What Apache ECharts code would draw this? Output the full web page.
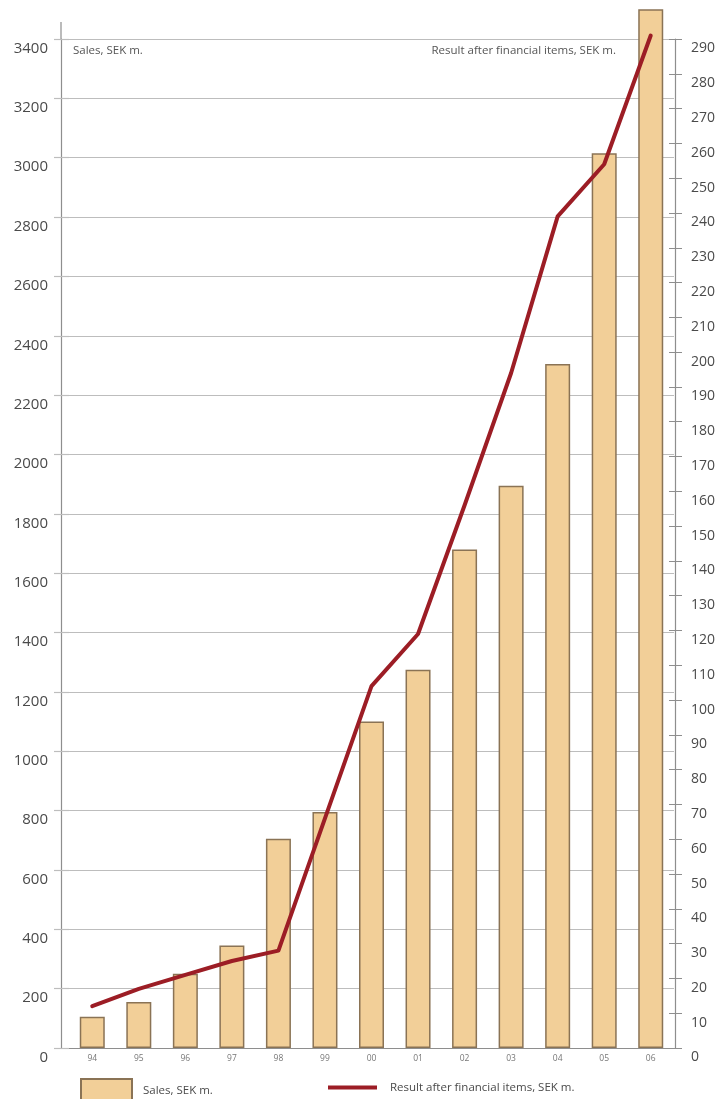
<!DOCTYPE html>
<html>
<head>
<meta charset="utf-8">
<script src="https://cdn.jsdelivr.net/npm/echarts@6/dist/echarts.min.js"></script>
<style>
  html, body { margin: 0; padding: 0; background: #ffffff; }
  #chart { width: 720px; height: 1099px; }
</style>
</head>
<body>
<div id="chart"></div>
<script>
// Years on the category axis
const years = ['94', '95', '96', '97', '98', '99', '00', '01', '02', '03', '04', '05', '06'];
// Sales, SEK m. (left axis)
const sales = [105, 155, 250, 345, 705, 795, 1100, 1275, 1680, 1895, 2305, 3015, 3500];
// Result after financial items, SEK m. (right axis)
const result = [12, 17, 21, 25, 28, 66, 104, 119, 156, 194, 239, 254, 291];
// Axis scales
const salesScale = { min: 0, max: 3400, interval: 200 };
const resultScale = { min: 0, max: 290, interval: 10 };
const salesName = 'Sales, SEK m.';
const resultName = 'Result after financial items, SEK m.';

const FONT = '"Open Sans", "Noto Sans", sans-serif';
const AXIS_COLOR = '#8e8e8e';
const GRID_COLOR = '#bdbdbd';
const BAR_FILL = '#f2cf98';
const BAR_EDGE = '#8a7355';
const LINE_COLOR = '#9c1d25';
const TEXT_COLOR = '#4a4a4a';

// plain integers, no thousands separator
const plain = v => String(v);

const chart = echarts.init(document.getElementById('chart'), null, { renderer: 'canvas' });

chart.setOption({
  backgroundColor: '#ffffff',
  animation: false,
  grid: { left: 69, right: 46, top: 39, bottom: 51, containLabel: false },
  legend: [
    {
      data: [salesName],
      left: 80, top: 1078,
      padding: 0,
      itemWidth: 51, itemHeight: 24,
      itemGap: 12,
      icon: 'rect',
      textStyle: { fontFamily: FONT, fontSize: 11.5, color: TEXT_COLOR, padding: [0, 0, 0, 6] },
      selectedMode: false
    },
    {
      data: [resultName],
      left: 328, top: 1080,
      padding: 0,
      itemWidth: 49, itemHeight: 4,
      itemGap: 12,
      icon: 'rect',
      itemStyle: { color: LINE_COLOR, borderWidth: 0 },
      textStyle: { fontFamily: FONT, fontSize: 11.5, color: TEXT_COLOR, lineHeight: 15, padding: [0, 0, 0, 8] },
      selectedMode: false
    }
  ],
  xAxis: {
    type: 'category',
    data: years,
    boundaryGap: true,
    axisLine: { show: true, lineStyle: { color: AXIS_COLOR, width: 1.2 } },
    axisTick: { show: false },
    axisLabel: { fontFamily: FONT, fontSize: 8.5, color: '#777777', margin: 6 },
    splitLine: { show: false }
  },
  yAxis: [
    {
      type: 'value',
      position: 'left',
      offset: 8,
      min: salesScale.min, max: salesScale.max, interval: salesScale.interval,
      axisLine: { show: true, lineStyle: { color: AXIS_COLOR, width: 1.2 } },
      axisTick: { show: true, inside: false, length: 7, lineStyle: { color: GRID_COLOR, width: 1.2 } },
      axisLabel: {
        fontFamily: FONT, fontSize: 15, color: TEXT_COLOR, formatter: plain,
        margin: 13, verticalAlign: 'top', lineHeight: 19
      },
      splitLine: { show: true, lineStyle: { color: GRID_COLOR, width: 1.2 } }
    },
    {
      type: 'value',
      position: 'right',
      offset: 1,
      min: resultScale.min, max: resultScale.max, interval: resultScale.interval,
      axisLine: { show: true, lineStyle: { color: AXIS_COLOR, width: 1.2 } },
      axisTick: { show: true, inside: false, length: 7, lineStyle: { color: AXIS_COLOR, width: 1 } },
      axisLabel: {
        fontFamily: FONT, fontSize: 14, color: TEXT_COLOR, formatter: plain,
        margin: 16, verticalAlign: 'top', lineHeight: 19
      },
      splitLine: { show: false }
    },
    {
      // inner half of the sales gridline stubs between the axis and the first bar slot
      type: 'value',
      position: 'left',
      offset: 8,
      min: salesScale.min, max: salesScale.max, interval: salesScale.interval,
      axisLine: { show: false },
      axisTick: { show: true, inside: true, length: 8, lineStyle: { color: GRID_COLOR, width: 1.2 } },
      axisLabel: { show: false },
      splitLine: { show: false }
    },
    {
      // inner half of the result ticks, so they cross the right axis
      type: 'value',
      position: 'right',
      offset: 1,
      min: resultScale.min, max: resultScale.max, interval: resultScale.interval,
      axisLine: { show: false },
      axisTick: { show: true, inside: true, length: 6, lineStyle: { color: AXIS_COLOR, width: 1 } },
      axisLabel: { show: false },
      splitLine: { show: false }
    }
  ],
  series: [
    {
      name: salesName,
      type: 'bar',
      yAxisIndex: 0,
      data: sales,
      barWidth: 25,
      clip: false,
      itemStyle: { color: BAR_FILL, borderColor: BAR_EDGE, borderWidth: 1.5 },
      z: 2
    },
    {
      name: resultName,
      type: 'line',
      yAxisIndex: 1,
      data: result,
      clip: false,
      symbol: 'none',
      smooth: false,
      lineStyle: { color: LINE_COLOR, width: 4, cap: 'round', join: 'round' },
      itemStyle: { color: LINE_COLOR },
      z: 3
    }
  ],
  graphic: [
    {
      // upper stub of the left axis above the top gridline
      type: 'line',
      shape: { x1: 61, y1: 22, x2: 61, y2: 39 },
      style: { stroke: AXIS_COLOR, lineWidth: 1.2 },
      silent: true
    },
    {
      type: 'text',
      left: 73, top: 45,
      style: { text: salesName, font: '11.5px ' + FONT, fill: '#555555' },
      silent: true
    },
    {
      type: 'text',
      right: 104, top: 45,
      style: { text: resultName, font: '11.5px ' + FONT, fill: '#555555' },
      silent: true
    }
  ]
});
</script>
</body>
</html>
